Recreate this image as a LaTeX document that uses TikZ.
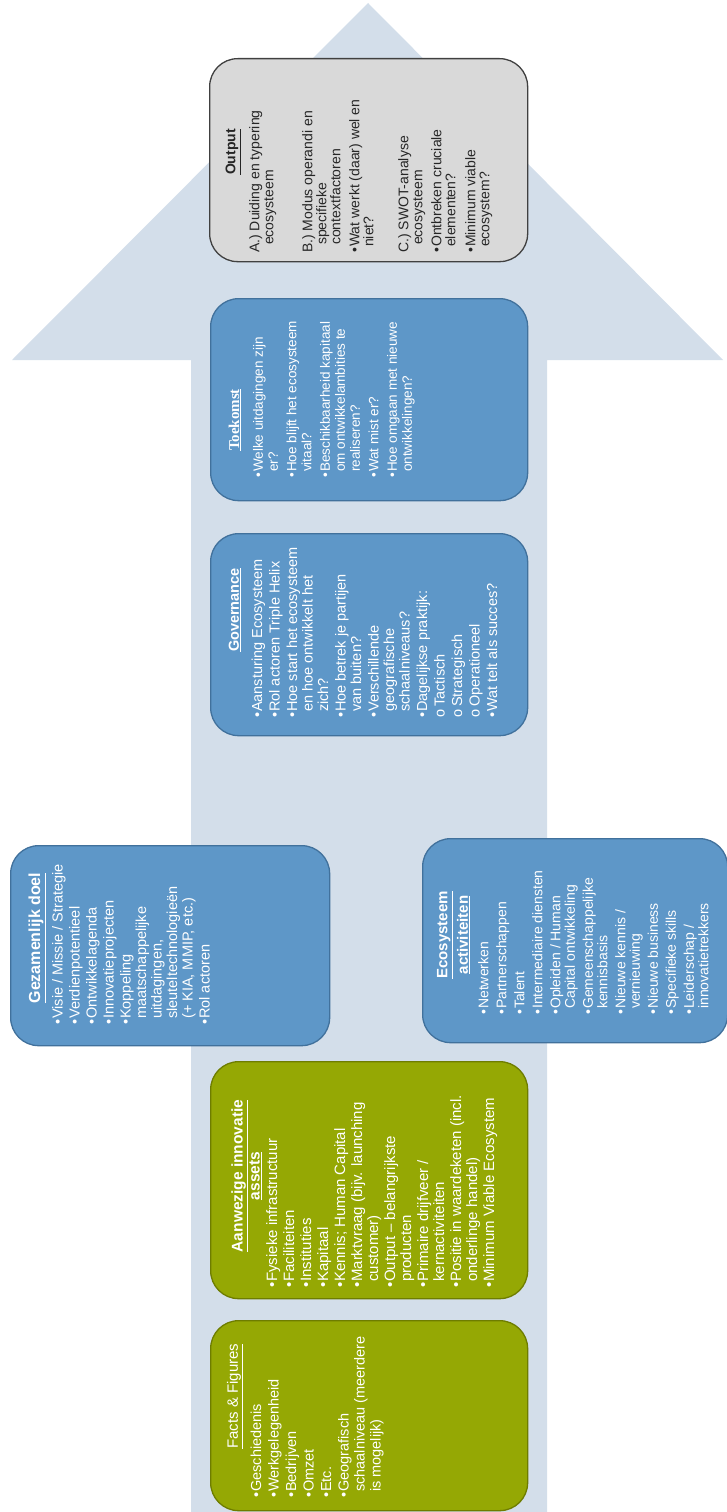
\documentclass[tikz,border=0pt]{standalone}
\usepackage{fontspec}
\setmainfont{Liberation Sans}
\newfontfamily\titleserif{Liberation Serif}
\definecolor{arrowc}{RGB}{211,222,234}
\definecolor{boxblue}{RGB}{94,151,200}
\definecolor{boxblueline}{RGB}{65,113,156}
\definecolor{boxgreen}{RGB}{149,168,4}
\definecolor{boxgreenline}{RGB}{110,125,0}
\definecolor{boxgray}{RGB}{217,217,217}
\definecolor{boxgrayline}{RGB}{64,64,64}
\definecolor{outtext}{RGB}{38,38,38}
\newcommand\fsz[2]{\fontsize{#1}{#2}\selectfont}
\newcommand\bitem{\makebox[6pt][l]{\textbullet}}
\newcommand\bcont{\hspace*{6pt}}
\newcommand\subit{\makebox[11pt][l]{\hspace*{0.5pt}o}}
\tikzset{
  boxbase/.style={rectangle, rounded corners=28pt, line width=1.3pt, inner sep=0pt, anchor=north west},
  bluebox/.style={boxbase, fill=boxblue, draw=boxblueline},
  greenbox/.style={boxbase, fill=boxgreen, draw=boxgreenline},
  graybox/.style={boxbase, fill=boxgray, draw=boxgrayline},
  bodytext/.style={rotate=90, anchor=north west, inner sep=0pt, align=left, text=white},
  titletext/.style={rotate=90, anchor=center, inner sep=0pt, align=center, text=white},
}
\begin{document}
\begin{tikzpicture}[x=1pt,y=-1pt]
\useasboundingbox (0,0) rectangle (727,1512);
% big arrow
\fill[arrowc] (191,1512) -- (191,360) -- (12,360) -- (368,3) -- (723,360) -- (547,360) -- (547,1512) -- cycle;

% boxes
\node[graybox, minimum width=318pt, minimum height=203pt] (out) at (209,58) {};
\node[bluebox, minimum width=317pt, minimum height=202pt] (toek) at (210,298) {};
\node[bluebox, minimum width=317pt, minimum height=202pt] (gov) at (210,533) {};
\node[bluebox, minimum width=319pt, minimum height=200pt] (gez) at (10,845) {};
\node[bluebox, minimum width=305pt, minimum height=204pt] (eco) at (422,838) {};
\node[greenbox, minimum width=317pt, minimum height=237pt] (aan) at (210,1061) {};
\node[greenbox, minimum width=317pt, minimum height=190pt] (fac) at (210,1320) {};

% Output
\node[titletext, text=outtext, font=\fsz{14}{16}\bfseries] (outT) at (233,152) {\underline{Output}};
\node[bodytext, text=outtext, font=\fsz{14}{14}] (outB) at (249,253) {%
A.) Duiding en typering\\
\hspace*{8pt}ecosysteem\\[25pt]
B.) Modus operandi en\\
\hspace*{8pt}specifieke\\
\hspace*{8pt}contextfactoren\\[5pt]
\bitem Wat werkt (daar) wel en\\
\bcont niet?\\[21pt]
C.) SWOT-analyse\\
\hspace*{8pt}ecosysteem\\[5pt]
\bitem Ontbreken cruciale\\
\bcont elementen?\\[6pt]
\bitem Minimum viable\\
\bcont ecosystem?};

% Toekomst
\node[titletext, font=\fsz{15}{17}\titleserif\bfseries] (toekT) at (235,420) {\underline{Toekomst}};
\node[bodytext, font=\fsz{13.5}{15}] (toekB) at (253,478) {%
\bitem Welke uitdagingen zijn\\
\bcont er?\\[3.5pt]
\bitem Hoe blijft het ecosysteem\\
\bcont vitaal?\\[3.5pt]
\bitem Beschikbaarheid kapitaal\\
\bcont om ontwikkelambities te\\
\bcont realiseren?\\[3.5pt]
\bitem Wat mist er?\\[3.5pt]
\bitem Hoe omgaan met nieuwe\\
\bcont ontwikkelingen?};

% Governance
\node[titletext, font=\fsz{14.5}{17}\bfseries] (govT) at (235,610) {\underline{Governance}};
\node[bodytext, font=\fsz{14.5}{15.5}] (govB) at (251.5,718) {%
\bitem Aansturing Ecosysteem\\[2pt]
\bitem Rol actoren Triple Helix\\[2pt]
\bitem Hoe start het ecosysteem\\
\bcont en hoe ontwikkelt het\\
\bcont zich?\\[2pt]
\bitem Hoe betrek je partijen\\
\bcont van buiten?\\[2pt]
\bitem Verschillende\\
\bcont geografische\\
\bcont schaalniveaus?\\[2pt]
\bitem Dagelijkse praktijk:\\[2pt]
\subit Tactisch\\[2pt]
\subit Strategisch\\[2pt]
\subit Operationeel\\[2pt]
\bitem Wat telt als succes?};

% Gezamenlijk doel
\node[titletext, font=\fsz{16}{18}\bfseries] (gezT) at (37,938) {\underline{Gezamenlijk doel}};
\node[bodytext, font=\fsz{14.5}{15.5}] (gezB) at (52,1025) {%
\bitem Visie / Missie / Strategie\\[1.5pt]
\bitem Verdienpotentieel\\[1.5pt]
\bitem Ontwikkelagenda\\[1.5pt]
\bitem Innovatieprojecten\\[1.5pt]
\bitem Koppeling\\
\bcont maatschappelijke\\
\bcont uitdagingen,\\
\bcont sleuteltechnologieën\\
\bcont (+ KIA, MMIP, etc.)\\[1.5pt]
\bitem Rol actoren};

% Ecosysteem activiteiten
\node[titletext, font=\fsz{15}{20.5}\bfseries] (ecoT) at (453.5,935) {\underline{Ecosysteem}\\\underline{activiteiten}};
\node[bodytext, font=\fsz{14}{14.5}] (ecoB) at (478,1015) {%
\bitem Netwerken\\[3.5pt]
\bitem Partnerschappen\\[3.5pt]
\bitem Talent\\[3.5pt]
\bitem Intermediaire diensten\\[3.5pt]
\bitem Opleiden / Human\\
\bcont Capital ontwikkeling\\[3.5pt]
\bitem Gemeenschappelijke\\
\bcont kennisbasis\\[3.5pt]
\bitem Nieuwe kennis /\\
\bcont vernieuwing\\[3.5pt]
\bitem Nieuwe business\\[3.5pt]
\bitem Specifieke skills\\[3.5pt]
\bitem Leiderschap /\\
\bcont innovatietrekkers};

% Aanwezige innovatie assets
\node[titletext, font=\fsz{15.5}{17}\bfseries] (aanT) at (246.5,1176) {\underline{Aanwezige innovatie}\\\underline{assets}};
\node[bodytext, font=\fsz{15}{16}] (aanB) at (266,1288) {%
\bitem Fysieke infrastructuur\\[1pt]
\bitem Faciliteiten\\[1pt]
\bitem Instituties\\[1pt]
\bitem Kapitaal\\[1pt]
\bitem Kennis; Human Capital\\[1pt]
\bitem Marktvraag (bijv. launching\\
\bcont customer)\\[1pt]
\bitem Output -- belangrijkste\\
\bcont producten\\[1pt]
\bitem Primaire drijfveer /\\
\bcont kernactiviteiten\\[1pt]
\bitem Positie in waardeketen (incl.\\
\bcont onderlinge handel)\\[1pt]
\bitem Minimum Viable Ecosystem};

% Facts & Figures
\node[titletext, font=\fsz{15}{18}] (facT) at (235,1396) {\underline{Facts \& Figures}};
\node[bodytext, font=\fsz{14.5}{16}] (facB) at (250.5,1498) {%
\bitem Geschiedenis\\[1.5pt]
\bitem Werkgelegenheid\\[1.5pt]
\bitem Bedrijven\\[1.5pt]
\bitem Omzet\\[1.5pt]
\bitem Etc.\\[1.5pt]
\bitem Geografisch\\
\bcont schaalniveau (meerdere\\
\bcont is mogelijk)};
\end{tikzpicture}
\end{document}
